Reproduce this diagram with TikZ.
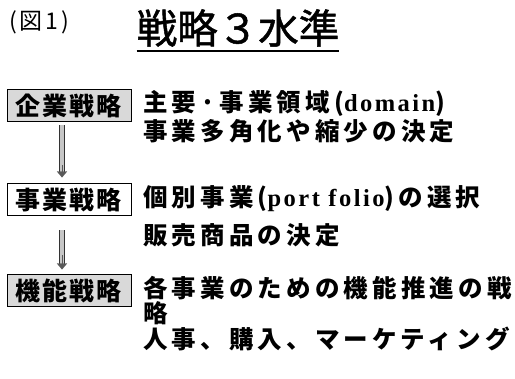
\documentclass[tikz,border=0pt]{standalone}
\usepackage{fontspec}
\usetikzlibrary{arrows.meta}
\newfontfamily\jp{Noto Sans CJK JP}
\newfontfamily\jptitle[FakeBold=1.2]{Noto Sans CJK JP}
\newfontfamily\jpsp[LetterSpace=17]{Noto Sans CJK JP}
\newfontfamily\jpbox[LetterSpace=8]{Noto Sans CJK JP}
\newfontfamily\jpfig[LetterSpace=12]{Noto Sans CJK JP}
\newfontfamily\lsp[LetterSpace=10]{Liberation Serif}
\begin{document}
\begin{tikzpicture}[x=1pt,y=-1pt,
  boxbase/.style={draw=black, line width=1pt, minimum width=124pt, minimum height=32pt, inner sep=0pt,
    font=\jpbox\bfseries\fontsize{25}{25}\selectfont},
  shadedbox/.style={boxbase, fill=gray!30},
  plainbox/.style={boxbase, fill=white},
  txt/.style={anchor=west, inner sep=0pt, font=\jpsp\bfseries\fontsize{24.5}{24.5}\selectfont},
  shaft/.style={double=gray!45, double distance=4pt, line width=0.8pt, draw=black!80, shorten >=5pt},
  head/.style={draw=black!65, line width=0.1pt, -{Triangle[length=6pt,width=10pt]}}]
\useasboundingbox (0,0) rectangle (515,379);
\node[font=\jpfig\fontsize{23}{23}\selectfont, inner sep=0pt] (fig) at (39,22) {(図1)};
\node[font=\jptitle\fontsize{40.5}{40.5}\selectfont, inner sep=0pt] (title) at (238,28) {戦略３水準};
\draw[line width=2pt] ([yshift=-4pt]title.south west) -- ([yshift=-4pt]title.south east);

\node[shadedbox] (b1) at (69,106) {企業戦略};
\node[plainbox] (b2) at (69,200) {事業戦略};
\node[shadedbox] (b3) at (69,291) {機能戦略};

\draw[shaft] ([xshift=-7pt,yshift=-3pt]b1.south) -- ([xshift=-7pt,yshift=6pt]b2.north);
\draw[head, shorten <=40pt] ([xshift=-7pt,yshift=-3pt]b1.south) -- ([xshift=-7pt,yshift=6pt]b2.north);
\draw[shaft] ([xshift=-7pt,yshift=-14pt]b2.south) -- ([xshift=-7pt,yshift=5pt]b3.north);
\draw[head, shorten <=25pt] ([xshift=-7pt,yshift=-14pt]b2.south) -- ([xshift=-7pt,yshift=5pt]b3.north);

\node[txt] (t1) at (143,103) {主要·事業領域({\lsp\bfseries domain})};
\node[txt] (t2) at (143,131) {事業多角化や縮少の決定};
\node[txt] (t3) at (143,199) {個別事業({\lsp\bfseries port folio})の選択};
\node[txt] (t4) at (143,235) {販売商品の決定};
\node[txt] (t5) at (143,288) {各事業のための機能推進の戦};
\node[txt] (t6) at (143,313) {略};
\node[txt] (t7) at (143,339) {人事、購入、マーケティング};
\end{tikzpicture}
\end{document}
